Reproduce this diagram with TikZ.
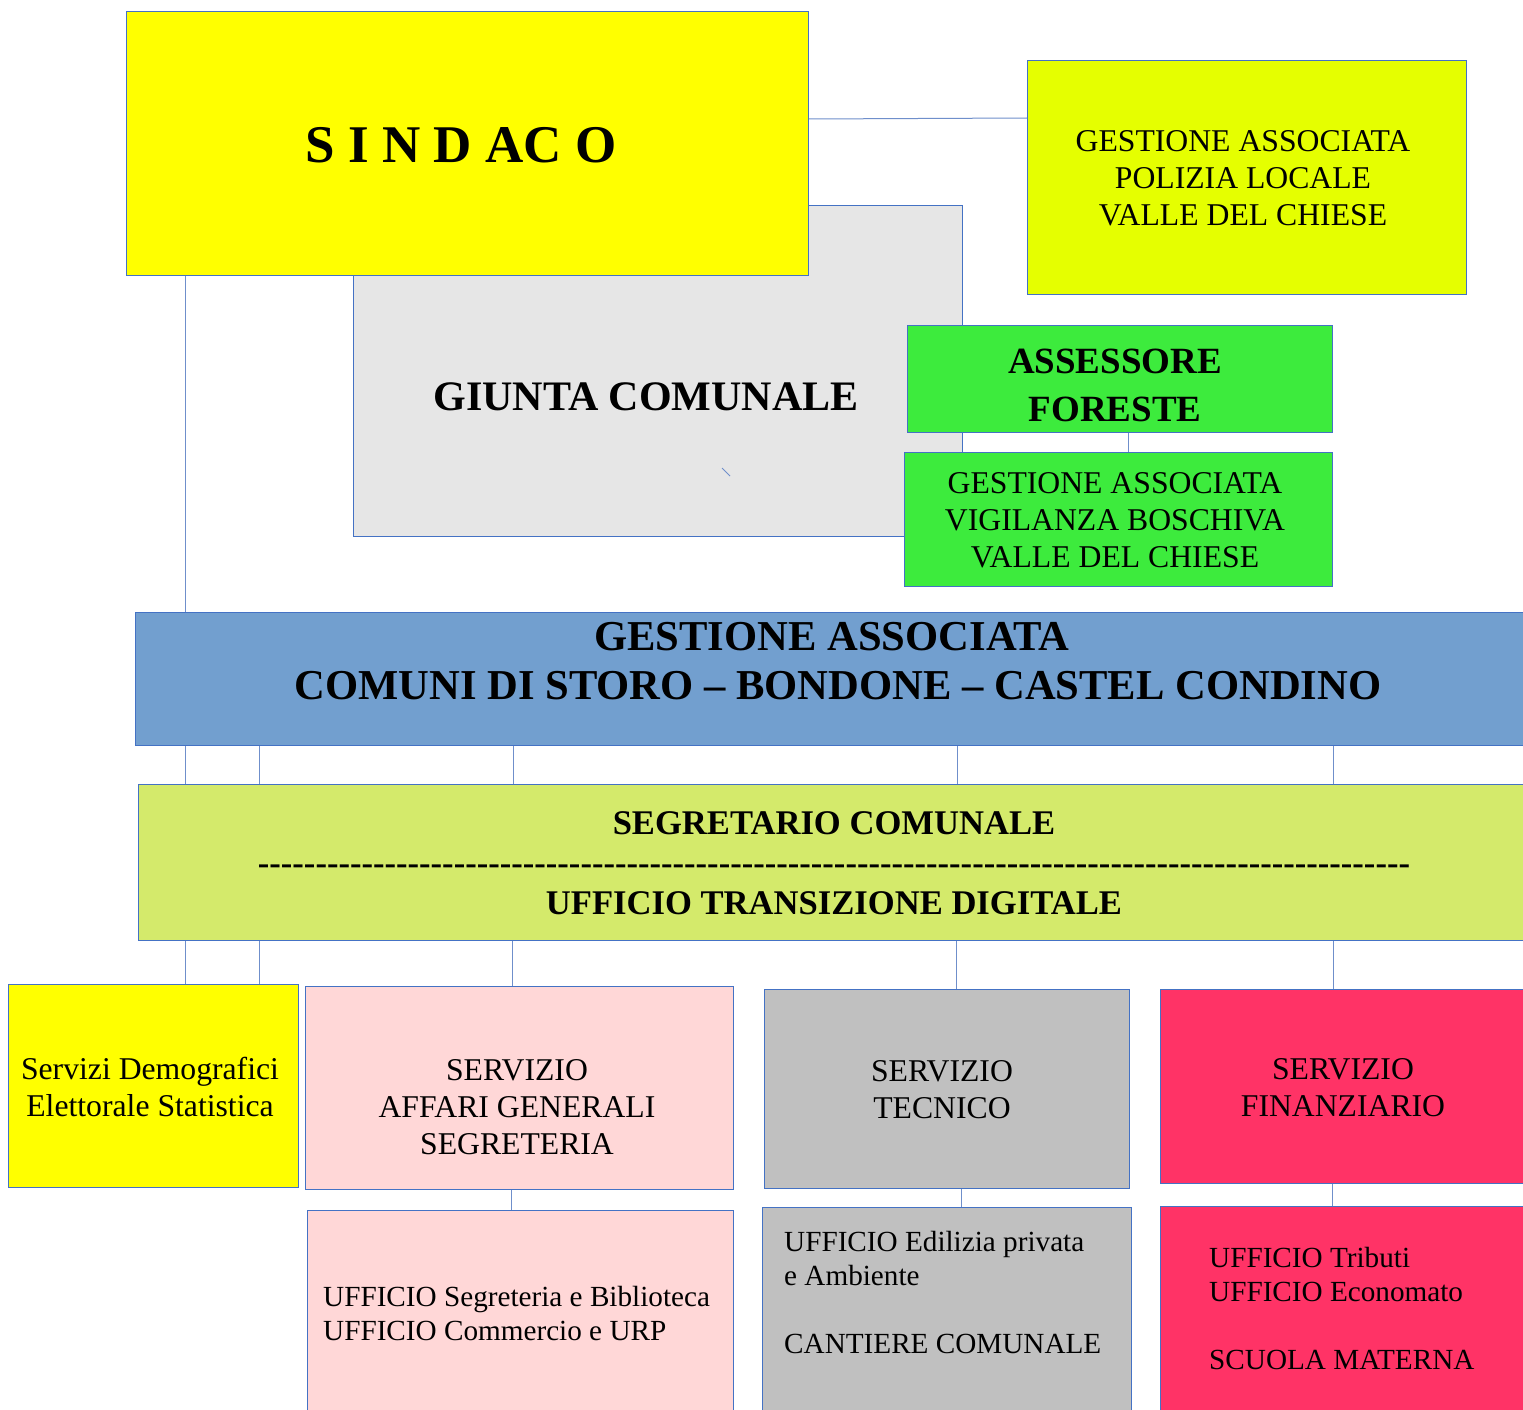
\documentclass[tikz,border=0pt]{standalone}
\usepackage{fontspec}
\setmainfont{Liberation Serif}
\begin{document}
\begin{tikzpicture}[x=1pt,y=-1pt,
  box/.style={draw=bordc, line width=1pt, rectangle, inner sep=0pt, anchor=north west},
  conn/.style={draw=connc, line width=1pt},
  txt/.style={inner sep=0pt, align=center, font=\fontsize{31.7}{37}\selectfont},
  ltxt/.style={inner sep=0pt, align=left, anchor=west, font=\fontsize{29.2}{34}\selectfont}]
\definecolor{bordc}{HTML}{4472C4}
\definecolor{connc}{HTML}{6F8FCB}
\definecolor{cyel}{HTML}{FFFF00}
\definecolor{cpol}{HTML}{E5FF00}
\definecolor{cgiu}{HTML}{E6E6E6}
\definecolor{cgrn}{HTML}{3DEB3D}
\definecolor{cblu}{HTML}{729FCF}
\definecolor{cseg}{HTML}{D4EA6B}
\definecolor{cpnk}{HTML}{FFD7D7}
\definecolor{cgry}{HTML}{C0C0C0}
\definecolor{cred}{HTML}{FF3366}
\useasboundingbox (0,0) rectangle (1523,1410);
\clip (0,0) rectangle (1523,1410);
\fill[white] (0,0) rectangle (1523,1410);

% boxes
\node[box, fill=cgiu, minimum width=609, minimum height=331] (giunta) at (353,205) {};
\node[box, fill=cyel, minimum width=682, minimum height=264] (sindaco) at (126,11) {};
\node[box, fill=cpol, minimum width=439, minimum height=234] (polizia) at (1027,60) {};
\node[box, fill=cgrn, minimum width=425, minimum height=107] (assessore) at (907,325) {};
\node[box, fill=cgrn, minimum width=428, minimum height=134] (vigilanza) at (904,452) {};
\node[box, fill=cblu, minimum width=1405, minimum height=133] (gest) at (135,612) {};
\node[box, fill=cseg, minimum width=1402, minimum height=156] (segr) at (138,784) {};
\node[box, fill=cyel, minimum width=290, minimum height=203] (demo) at (8,984) {};
\node[box, fill=cpnk, minimum width=428, minimum height=203] (affari) at (305,986) {};
\node[box, fill=cgry, minimum width=365, minimum height=199] (tecnico) at (764,989) {};
\node[box, fill=cred, minimum width=380, minimum height=194] (finanz) at (1160,989) {};
\node[box, fill=cpnk, minimum width=426, minimum height=230] (uffseg) at (307,1210) {};
\node[box, fill=cgry, minimum width=369, minimum height=233] (ufftec) at (762,1207) {};
\node[box, fill=cred, minimum width=380, minimum height=234] (ufffin) at (1160,1206) {};

% connectors
\draw[conn] (sindaco.east |- 0,119) -- (polizia.west |- 0,118);
\draw[conn] (1128,0 |- assessore.south) -- (1128,0 |- vigilanza.north);
\draw[conn] (185,0 |- sindaco.south) -- (185,0 |- gest.north);
\foreach \xx in {185,259,513,957,1333}
  \draw[conn] (\xx,0 |- gest.south) -- (\xx,0 |- segr.north);
\draw[conn] (185,0 |- segr.south) -- (185,0 |- demo.north);
\draw[conn] (259,0 |- segr.south) -- (259,0 |- demo.north);
\draw[conn] (512,0 |- segr.south) -- (512,0 |- affari.north);
\draw[conn] (956,0 |- segr.south) -- (956,0 |- tecnico.north);
\draw[conn] (1333,0 |- segr.south) -- (1333,0 |- finanz.north);
\draw[conn] (511,0 |- affari.south) -- (511,0 |- uffseg.north);
\draw[conn] (961,0 |- tecnico.south) -- (961,0 |- ufftec.north);
\draw[conn] (1332,0 |- finanz.south) -- (1332,0 |- ufffin.north);
\draw[conn] (722,468) -- (730,476);

% texts
\node[inner sep=0pt, font=\fontsize{53}{60}\selectfont\bfseries] (tsindaco) at (461,145) {S I N D AC O};
\node[txt] (tpolizia) at (1243,178) {GESTIONE ASSOCIATA\\POLIZIA LOCALE\\VALLE DEL CHIESE};
\node[inner sep=0pt, font=\fontsize{42}{49}\selectfont\bfseries] (tgiunta) at (646,397) {GIUNTA COMUNALE};
\node[inner sep=0pt, align=center, font=\fontsize{37}{48}\selectfont\bfseries] (tassessore) at (1115,385) {ASSESSORE\\FORESTE};
\node[txt] (tvigilanza) at (1115,520) {GESTIONE ASSOCIATA\\VIGILANZA BOSCHIVA\\VALLE DEL CHIESE};
\node[inner sep=0pt, align=center, font=\fontsize{42.6}{49}\selectfont\bfseries] (tgest) at (838,661) {GESTIONE ASSOCIATA\hspace*{12pt}\\COMUNI DI STORO -- BONDONE -- CASTEL CONDINO};
\node[inner sep=0pt, align=center, font=\fontsize{34.6}{40}\selectfont\bfseries] (tsegr) at (834,863) {SEGRETARIO COMUNALE\\-{}-{}-{}-{}-{}-{}-{}-{}-{}-{}-{}-{}-{}-{}-{}-{}-{}-{}-{}-{}-{}-{}-{}-{}-{}-{}-{}-{}-{}-{}-{}-{}-{}-{}-{}-{}-{}-{}-{}-{}-{}-{}-{}-{}-{}-{}-{}-{}-{}-{}-{}-{}-{}-{}-{}-{}-{}-{}-{}-{}-{}-{}-{}-{}-{}-{}-{}-{}-{}-{}-{}-{}-{}-{}-{}-{}-{}-{}-{}-{}-{}-{}-{}-{}-{}-{}-{}-{}-{}-{}-{}-{}-{}-{}-{}-{}-{}-{}-{}-{}\\UFFICIO TRANSIZIONE DIGITALE};
\node[txt] (tdemo) at (150,1087) {Servizi Demografici\\Elettorale Statistica};
\node[txt] (taffari) at (517,1107) {SERVIZIO\\AFFARI GENERALI\\SEGRETERIA};
\node[txt] (ttecnico) at (942,1090) {SERVIZIO\\TECNICO};
\node[txt] (tfinanz) at (1343,1088) {SERVIZIO\\FINANZIARIO};
\node[ltxt] (tuffseg) at (323,1313) {UFFICIO Segreteria e Biblioteca\\UFFICIO Commercio e URP};
\node[ltxt] (tufftec) at (784,1292) {UFFICIO Edilizia privata\\e Ambiente\\[34pt]CANTIERE COMUNALE};
\node[ltxt] (tufffin) at (1209,1308) {UFFICIO Tributi\\UFFICIO Economato\\[34pt]SCUOLA MATERNA};
\end{tikzpicture}
\end{document}
